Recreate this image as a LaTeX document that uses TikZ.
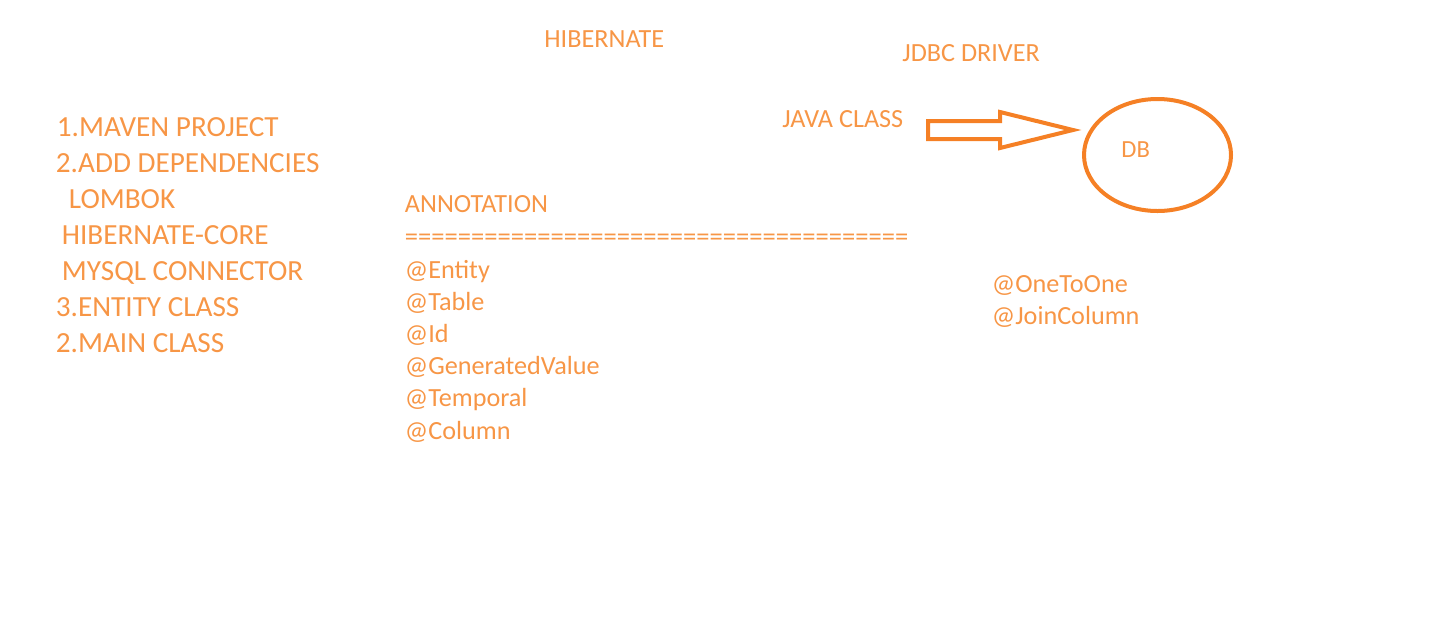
\documentclass[tikz,border=0pt]{standalone}
\usepackage{fontspec}
\setmainfont{Carlito}
\usepackage{xcolor}
\usepackage{tikz}
\usetikzlibrary{shapes,arrows,positioning}
\definecolor{noteorange}{HTML}{F79646}
\definecolor{lineorange}{HTML}{F58025}
\tikzstyle{note} = [text=noteorange, inner sep=0pt, anchor=base west,
    font=\fontsize{13.1}{15}\selectfont]
\tikzstyle{listitem} = [note, font=\fontsize{14.6}{17}\selectfont]
\tikzstyle{dbshape} = [ellipse, draw=lineorange, line width=2pt,
    minimum width=73.5pt, minimum height=56pt, inner sep=0pt]
\tikzstyle{blockarrow} = [draw=lineorange, line width=2pt, line join=miter]

\begin{document}
\begin{tikzpicture}[x=0.5pt, y=-0.5pt]
    \useasboundingbox (0,0) rectangle (1443,633);

    % Headings
    \node [note] (hibernate) at (544,47) {HIBERNATE};
    \node [note] (jdbc) at (902,61) {JDBC DRIVER};
    \node [note] (javaclass) at (782,127) {JAVA CLASS};

    % Steps
    \node [listitem] (s1) at (56.5,136) {1.MAVEN PROJECT};
    \node [listitem, below=18pt of s1.base west, anchor=base west, xshift=-0.5pt] (s2) {2.ADD DEPENDENCIES};
    \node [listitem, below=18pt of s2.base west, anchor=base west, xshift=6.5pt] (s3) {LOMBOK};
    \node [listitem, below=18pt of s3.base west, anchor=base west, xshift=-3.5pt] (s4) {HIBERNATE-CORE};
    \node [listitem, below=18pt of s4.base west, anchor=base west] (s5) {MYSQL CONNECTOR};
    \node [listitem, below=18pt of s5.base west, anchor=base west, xshift=-3pt] (s6) {3.ENTITY CLASS};
    \node [listitem, below=18pt of s6.base west, anchor=base west] (s7) {2.MAIN CLASS};

    % Annotations
    \node [note] (annotation) at (404.5,212) {ANNOTATION};
    \node [note, below=16.5pt of annotation.base west, anchor=base west,
        font=\fontsize{13.3}{15}\selectfont] (rule) {======================================};
    \node [note, below=16.5pt of rule.base west, anchor=base west] (entity) {@Entity};
    \node [note, below=16.1pt of entity.base west, anchor=base west] (table) {@Table};
    \node [note, below=16.1pt of table.base west, anchor=base west] (id) {@Id};
    \node [note, below=16.1pt of id.base west, anchor=base west] (genvalue) {@GeneratedValue};
    \node [note, below=16.1pt of genvalue.base west, anchor=base west] (temporal) {@Temporal};
    \node [note, below=16.1pt of temporal.base west, anchor=base west] (column) {@Column};

    \node [note] (onetoone) at (991.5,292) {@OneToOne};
    \node [note, below=16pt of onetoone.base west, anchor=base west] (joincolumn) {@JoinColumn};

    % Database
    \node [dbshape] (db) at (1157.5,155) {};
    \node [note, font=\fontsize{12.3}{14}\selectfont] (dbtext) at (1121,157) {DB};

    % Block arrow
    \coordinate (tail) at (928,121);
    \path [blockarrow] (tail) -- ++(72,0) -- ++(0,-9) -- ++(73,18)
        -- ++(-73,18) -- ++(0,-9) -- ++(-72,0) -- cycle;
\end{tikzpicture}
\end{document}
